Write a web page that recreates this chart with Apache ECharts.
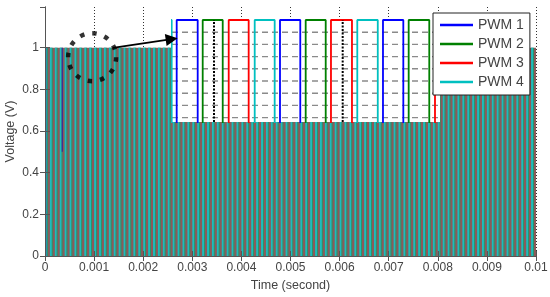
<!DOCTYPE html>
<html><head><meta charset="utf-8">
<script src="https://cdn.jsdelivr.net/npm/echarts@6/dist/echarts.min.js"></script>
<style>html,body{margin:0;padding:0;background:#fff}#c{width:550px;height:297px}</style>
</head><body><div id="c"></div>
<script>
// ---- data ----
const xTickValues = [0, 0.001, 0.002, 0.003, 0.004, 0.005, 0.006, 0.007, 0.008, 0.009, 0.01];
const yTickValues = [0, 0.2, 0.4, 0.6, 0.8, 1];
const pwmNames = ['PWM 1', 'PWM 2', 'PWM 3', 'PWM 4'];
const pwmColors = ['#0000ff', '#008000', '#ff0000', '#00c0c0'];
// inset (zoomed window, µs): [rise, fall] edges of each pulse
const pwm1Edges = [[9.1, 49.8], [209.3, 248.6], [408.9, 448.3]];
const pwm2Edges = [[59.5, 98.3], [259.1, 297.9], [458.7, 498.6]];
const pwm3Edges = [[109.9, 148.6], [308.1, 348.8], [509.7, 548]];
const pwm4Edges = [[-39.7, -0.6], [160.3, 199.0], [359.1, 398.8]];
const insetRange = [0, 519.4];
const insetVRange = [0.9164, 1.0];
const insetGridV = [81.4, 330.8];
const insetGridH = [0.99, 0.98, 0.97, 0.96, 0.95, 0.94, 0.93, 0.92];
// main plot: one carrier period of stripes (fractions of period), repeated over the time span
const mainSpan = [0, 0.01];
const mainPeriod = 0.0001;
const pulseLevel = 1;
const stripeStart = [0.0, 0.40];
const stripeEnd = [0.40, 0.56];
const stripeColor = ['#1cbcbc', '#13a070', '#3b2a9a'];
const baseColor = '#8c5a5a';
// visible PWM 1 edges in the main plot: [t0, t1, low, high]
const pwm1MainEdges = [[0, 0.000025, 0, 1], [0.00034, 0.000365, 0.5, 1]];
// annotation
const zoomCircle = [0.00096, 0.954];
const arrowFrom = [0.00138, 0.999];
const arrowTo = [0.00258, 1.041];

// ---- build stripe table from the measured period ----
const stripes = [[mainSpan[0], mainSpan[1], 0, pulseLevel, -1]];
const nPer = Math.round((mainSpan[1] - mainSpan[0]) / mainPeriod);
for (let n = 0; n < nPer; n++) {
  const t0 = mainSpan[0] + n * mainPeriod;
  for (let k = 0; k < stripeStart.length; k++) {
    stripes.push([t0 + stripeStart[k] * mainPeriod, t0 + stripeEnd[k] * mainPeriod, 0, pulseLevel, k]);
  }
}
pwm1MainEdges.forEach(e => stripes.push([e[0], e[1], e[2], e[3], 2]));
function edgesToLine(edges) {
  const d = [];
  edges.forEach(e => { d.push([e[0], 0], [e[0], 1], [e[1], 1], [e[1], 0]); });
  return d;
}
const insetEdges = [pwm1Edges, pwm2Edges, pwm3Edges, pwm4Edges];

const axisColor = '#555';
const textStyle = { color: '#444', fontSize: 12, fontFamily: 'Liberation Sans, Arial, sans-serif' };

const chart = echarts.init(document.getElementById('c'), null, { renderer: 'canvas' });
const option = {
  animation: false,
  backgroundColor: '#fff',
  grid: [
    { left: 45, right: 14, top: 7, bottom: 41, show: false, containLabel: false, outerBoundsMode: 'none' },
    { left: 172, top: 20, width: 268, height: 102, show: true, backgroundColor: '#fff', borderWidth: 0, z: 8, containLabel: false, outerBoundsMode: 'none' }
  ],
  xAxis: [
    { gridIndex: 0, type: 'value', position: 'bottom', min: 0, max: 0.01, interval: 0.001, z: 6,
      axisLine: { show: true, lineStyle: { color: axisColor, width: 1 } },
      axisTick: { show: true, inside: true, length: 5, lineStyle: { color: axisColor } },
      axisLabel: Object.assign({ margin: 6, formatter: v => String(+v.toFixed(3)) }, textStyle),
      splitLine: { show: false },
      name: 'Time (second)', nameLocation: 'middle', nameGap: 23, nameMoveOverlap: false, nameTextStyle: Object.assign({}, textStyle, { fontSize: 12.5 }) },
    { gridIndex: 0, type: 'value', position: 'top', min: 0, max: 0.01, interval: 0.001, z: 6,
      axisLine: { show: true, lineStyle: { color: axisColor, width: 1 } },
      axisTick: { show: true, inside: true, length: 5, lineStyle: { color: axisColor } },
      axisLabel: { show: false }, splitLine: { show: false } },
    { gridIndex: 0, type: 'value', position: 'bottom', min: 0, max: 0.01, interval: 0.001, z: 0,
      axisLine: { show: false }, axisTick: { show: false }, axisLabel: { show: false },
      splitLine: { show: true, lineStyle: { color: '#333', type: [1, 2], width: 1 } } },
    { gridIndex: 1, type: 'value', min: insetRange[0], max: insetRange[1], show: false }
  ],
  yAxis: [
    { gridIndex: 0, type: 'value', position: 'left', min: 0, max: 1.195, interval: 0.2, z: 6,
      axisLine: { show: true, lineStyle: { color: axisColor, width: 1 } },
      axisTick: { show: true, inside: true, length: 5, lineStyle: { color: axisColor } },
      axisLabel: Object.assign({ margin: 6, showMaxLabel: false, formatter: v => (Math.abs(v * 5 - Math.round(v * 5)) < 1e-6 ? String(+v.toFixed(1)) : '') }, textStyle),
      splitLine: { show: false },
      name: 'Voltage (V)', nameLocation: 'middle', nameGap: 28, nameMoveOverlap: false, nameTextStyle: Object.assign({}, textStyle, { fontSize: 12.5 }) },
    { gridIndex: 0, type: 'value', position: 'right', min: 0, max: 1.195, interval: 0.2, z: 6,
      axisLine: { show: true, lineStyle: { color: axisColor, width: 1 } },
      axisTick: { show: true, inside: true, length: 5, lineStyle: { color: axisColor } },
      axisLabel: { show: false }, splitLine: { show: false } },
    { gridIndex: 1, type: 'value', min: insetVRange[0], max: insetVRange[1], show: false }
  ],
  legend: {
    data: pwmNames, orient: 'vertical', left: 433, top: 13, z: 20,
    backgroundColor: '#fff', borderColor: '#222', borderWidth: 1, borderRadius: 0,
    padding: [5, 6, 6, 7], itemGap: 5, itemWidth: 33, itemHeight: 2.5, icon: 'rect',
    textStyle: { color: '#444', fontSize: 14, fontFamily: 'Liberation Sans, Arial, sans-serif' }
  },
  series: [
    { type: 'custom', name: 'stripes', xAxisIndex: 0, yAxisIndex: 0, z: 2, silent: true,
      encode: { x: [0, 1], y: [2, 3] }, clip: true,
      data: stripes,
      renderItem: function (params, api) {
        const p0 = api.coord([api.value(0), api.value(3)]);
        const p1 = api.coord([api.value(1), api.value(2)]);
        const k = api.value(4);
        return { type: 'rect', shape: { x: p0[0], y: p0[1], width: p1[0] - p0[0], height: p1[1] - p0[1] },
          style: { fill: k < 0 ? baseColor : stripeColor[k] } };
      } },
    { type: 'custom', name: 'insetGridH', xAxisIndex: 3, yAxisIndex: 2, z: 9, silent: true, clip: true,
      data: insetGridH.map(v => [v]), encode: { y: 0 },
      renderItem: function (params, api) {
        const a = api.coord([insetRange[0], api.value(0)]);
        const b = api.coord([insetRange[1], api.value(0)]);
        return { type: 'line', shape: { x1: a[0], y1: a[1], x2: b[0], y2: b[1] },
          style: { stroke: '#8a8a8a', lineWidth: 1.4, lineDash: [6, 4] } };
      } },
    { type: 'custom', name: 'insetGridV', xAxisIndex: 3, yAxisIndex: 2, z: 11, silent: true, clip: true,
      data: insetGridV.map(v => [v]), encode: { x: 0 },
      renderItem: function (params, api) {
        const a = api.coord([api.value(0), insetVRange[0]]);
        const b = api.coord([api.value(0), insetVRange[1]]);
        return { type: 'line', shape: { x1: a[0], y1: a[1], x2: b[0], y2: b[1] },
          style: { stroke: '#000', lineWidth: 2, lineDash: [2, 1.5] } };
      } },
    ...insetEdges.map((e, i) => ({
      type: 'line', name: pwmNames[i], xAxisIndex: 3, yAxisIndex: 2, data: edgesToLine(e),
      showSymbol: false, symbol: 'none', z: 10, clip: true, color: pwmColors[i],
      lineStyle: { color: pwmColors[i], width: 1.8 }, emphasis: { disabled: true }
    })),
    { type: 'scatter', name: 'circle', xAxisIndex: 0, yAxisIndex: 0, data: [zoomCircle], z: 12, silent: true,
      symbol: 'circle', symbolSize: 48,
      itemStyle: { color: 'rgba(0,0,0,0)', borderColor: '#000', borderWidth: 4.5, borderType: [4.5, 8] } },
    { type: 'lines', name: 'arrow', coordinateSystem: 'cartesian2d', xAxisIndex: 0, yAxisIndex: 0, z: 12, silent: true,
      data: [{ coords: [arrowFrom, arrowTo] }], symbol: ['none', 'triangle'], symbolSize: [0, 12],
      lineStyle: { color: '#000', width: 1.6, opacity: 1 } }
  ]
};
chart.setOption(option);
</script>
</body></html>
